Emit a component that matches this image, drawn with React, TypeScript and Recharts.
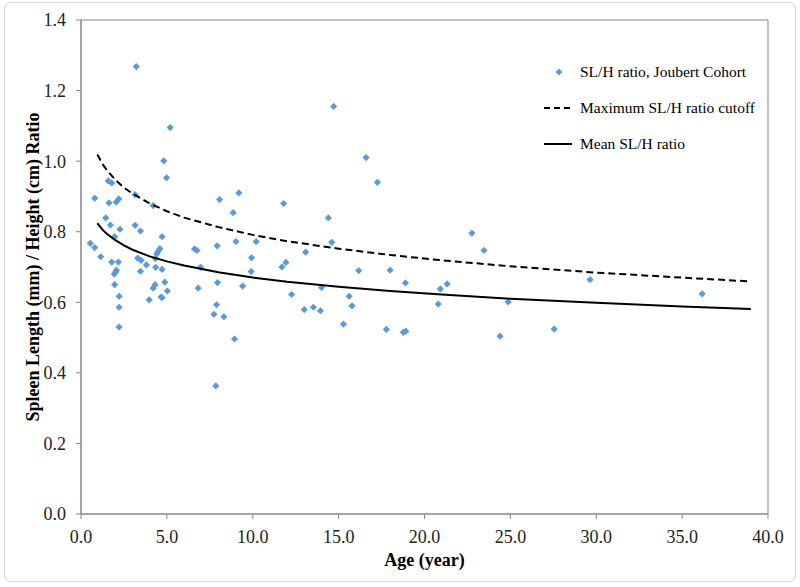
import React from "react";
import {
  ScatterChart,
  Scatter,
  XAxis,
  YAxis,
  ReferenceArea,
  Legend,
  Label,
} from "recharts";

// Joubert cohort: age (years) vs spleen length / height ratio
const ages = [
  3.22, 5.19, 4.82, 4.98, 1.59, 1.79, 0.8, 2.05, 2.2, 3.15, 8.07, 9.19, 4.2, 1.63, 1.44, 1.71, 2.27,
  3.15, 3.46, 1.96, 4.72, 8.86, 9.02, 10.2, 7.93, 0.54, 0.8, 1.15, 1.79, 2.18, 2.06, 2.02, 1.94,
  4.59, 4.49, 4.41, 4.33, 3.3, 3.5, 3.81, 3.46, 4.35, 4.72, 6.61, 6.75, 6.96, 9.93, 9.91, 7.95,
  9.41, 6.82, 1.96, 4.88, 4.31, 4.2, 5.03, 2.22, 4.66, 4.72, 3.97, 2.22, 7.89, 7.74, 8.32, 2.22,
  8.94, 11.8, 14.4, 17.26, 14.6, 13.08, 11.93, 11.7, 16.17, 14.01, 12.26, 15.61, 15.78, 13.0,
  13.53, 13.94, 15.28, 7.85, 14.71, 16.6, 22.76, 23.46, 18.0, 18.89, 20.92, 21.32, 20.8, 17.78,
  18.76, 18.91, 24.4, 24.87, 29.64, 36.17, 27.55,
];
const ratios = [
  1.268, 1.095, 1.001, 0.953, 0.944, 0.938, 0.895, 0.884, 0.893, 0.905, 0.891, 0.91, 0.874, 0.882,
  0.839, 0.819, 0.807, 0.818, 0.802, 0.786, 0.786, 0.854, 0.772, 0.772, 0.76, 0.767, 0.755, 0.729,
  0.714, 0.714, 0.691, 0.686, 0.68, 0.752, 0.744, 0.737, 0.724, 0.725, 0.719, 0.706, 0.688, 0.699,
  0.693, 0.751, 0.747, 0.699, 0.726, 0.687, 0.656, 0.646, 0.64, 0.65, 0.657, 0.65, 0.64, 0.632,
  0.617, 0.615, 0.613, 0.607, 0.586, 0.593, 0.566, 0.559, 0.53, 0.496, 0.88, 0.839, 0.94, 0.77,
  0.742, 0.713, 0.7, 0.69, 0.642, 0.622, 0.617, 0.59, 0.579, 0.586, 0.576, 0.538, 0.363, 1.155,
  1.01, 0.796, 0.747, 0.691, 0.655, 0.638, 0.652, 0.595, 0.523, 0.515, 0.518, 0.504, 0.601, 0.664,
  0.624, 0.524,
];

// reference curves
const curveAges = [0.95, 1.25, 1.5, 2, 2.5, 3, 4, 5, 6, 8, 10, 12, 15, 18, 21, 25, 30, 35, 39];
const maxCutoff = [
  1.019, 0.992, 0.975, 0.947, 0.925, 0.908, 0.88, 0.858, 0.84, 0.813, 0.791, 0.773, 0.752, 0.734,
  0.719, 0.702, 0.684, 0.67, 0.659,
];
const meanRatio = [
  0.824, 0.806, 0.794, 0.776, 0.761, 0.749, 0.73, 0.716, 0.704, 0.685, 0.67, 0.658, 0.644, 0.632,
  0.622, 0.61, 0.599, 0.588, 0.581,
];

const xTicks = [0, 5, 10, 15, 20, 25, 30, 35, 40];
const yTicks = [0, 0.2, 0.4, 0.6, 0.8, 1.0, 1.2, 1.4];

const cohort = ages.map((x, i) => ({ x, y: ratios[i] }));
const maxLine = curveAges.map((x, i) => ({ x, y: maxCutoff[i] }));
const meanLine = curveAges.map((x, i) => ({ x, y: meanRatio[i] }));

const BLUE = "#5B9BD5";
const FONT = "Liberation Serif, Times New Roman, serif";

const Diamond = (props: any) => {
  const { cx, cy } = props;
  if (cx == null || cy == null) return null;
  const r = 3.6;
  return <polygon points={`${cx},${cy - r} ${cx + r},${cy} ${cx},${cy + r} ${cx - r},${cy}`} fill={BLUE} />;
};

const NoDot = () => null;

const YTitle = ({ viewBox }: any) => {
  const cx = 33;
  const cy = viewBox.y + viewBox.height / 2;
  return (
    <text
      x={cx}
      y={cy}
      transform={`rotate(-90, ${cx}, ${cy})`}
      textAnchor="middle"
      dominantBaseline="central"
      fontFamily={FONT}
      fontWeight="bold"
      fontSize={18}
      fill="#000"
    >
      Spleen Length (mm) / Height (cm) Ratio
    </text>
  );
};

const LegendBox = () => {
  const row: React.CSSProperties = { display: "flex", alignItems: "center", height: 36, whiteSpace: "nowrap" };
  const icon: React.CSSProperties = { width: 32, marginRight: 4, flex: "none" };
  return (
    <div style={{ fontFamily: FONT, fontSize: 15.5, color: "#000" }}>
      <div style={row}>
        <svg style={icon} width={32} height={10}>
          <polygon points="15,1.5 18.5,5 15,8.5 11.5,5" fill={BLUE} />
        </svg>
        SL/H ratio, Joubert Cohort
      </div>
      <div style={row}>
        <svg style={icon} width={32} height={10}>
          <line x1={0} y1={5} x2={28} y2={5} stroke="#000" strokeWidth={2} strokeDasharray="6 4" />
        </svg>
        Maximum SL/H ratio cutoff
      </div>
      <div style={row}>
        <svg style={icon} width={32} height={10}>
          <line x1={0} y1={5} x2={28} y2={5} stroke="#000" strokeWidth={2} />
        </svg>
        Mean SL/H ratio
      </div>
    </div>
  );
};

const tickStyle = { fill: "#222", fontFamily: FONT, fontSize: 18 };

export default function App() {
  return (
    <div
      style={{
        position: "absolute",
        left: 0,
        top: 0,
        width: 800,
        height: 587,
        background: "#fff",
        fontFamily: FONT,
      }}
    >
      <div
        style={{
          position: "absolute",
          left: 4,
          top: 2,
          width: 790,
          height: 578,
          border: "1px solid #d9d9d9",
          borderRadius: 6,
        }}
      />
      <ScatterChart
        width={800}
        height={587}
        margin={{ top: 20, right: 32, bottom: 33, left: 21 }}
        style={{ fontFamily: FONT }}
      >
        <XAxis
          type="number"
          dataKey="x"
          domain={[0, 40]}
          ticks={xTicks}
          tickFormatter={(v: number) => v.toFixed(1)}
          height={40}
          tickSize={5}
          tickMargin={11}
          stroke="#868686"
          tick={tickStyle}
        >
          <Label
            value="Age (year)"
            position="bottom"
            offset={-1}
            style={{ fontFamily: FONT, fontWeight: "bold", fontSize: 18, fill: "#000" }}
          />
        </XAxis>
        <YAxis
          type="number"
          dataKey="y"
          domain={[0, 1.4]}
          ticks={yTicks}
          tickFormatter={(v: number) => v.toFixed(1)}
          width={60}
          tickSize={5}
          tickMargin={10}
          stroke="#868686"
          tick={tickStyle}
        >
          <Label content={<YTitle />} />
        </YAxis>
        <ReferenceArea x1={0} x2={40} y1={0} y2={1.4} fill="none" stroke="#868686" strokeWidth={1} />
        <Scatter
          name="SL/H ratio, Joubert Cohort"
          data={cohort}
          shape={<Diamond />}
          isAnimationActive={false}
        />
        <Scatter
          name="Maximum SL/H ratio cutoff"
          data={maxLine}
          line={{ stroke: "#000", strokeWidth: 2, strokeDasharray: "7 4" }}
          lineType="joint"
          shape={<NoDot />}
          isAnimationActive={false}
        />
        <Scatter
          name="Mean SL/H ratio"
          data={meanLine}
          line={{ stroke: "#000", strokeWidth: 2 }}
          lineType="joint"
          shape={<NoDot />}
          isAnimationActive={false}
        />
        <Legend
          content={<LegendBox />}
          layout="vertical"
          verticalAlign="middle"
          align="center"
          wrapperStyle={{ left: 544, top: 54, width: 230 }}
        />
      </ScatterChart>
    </div>
  );
}
